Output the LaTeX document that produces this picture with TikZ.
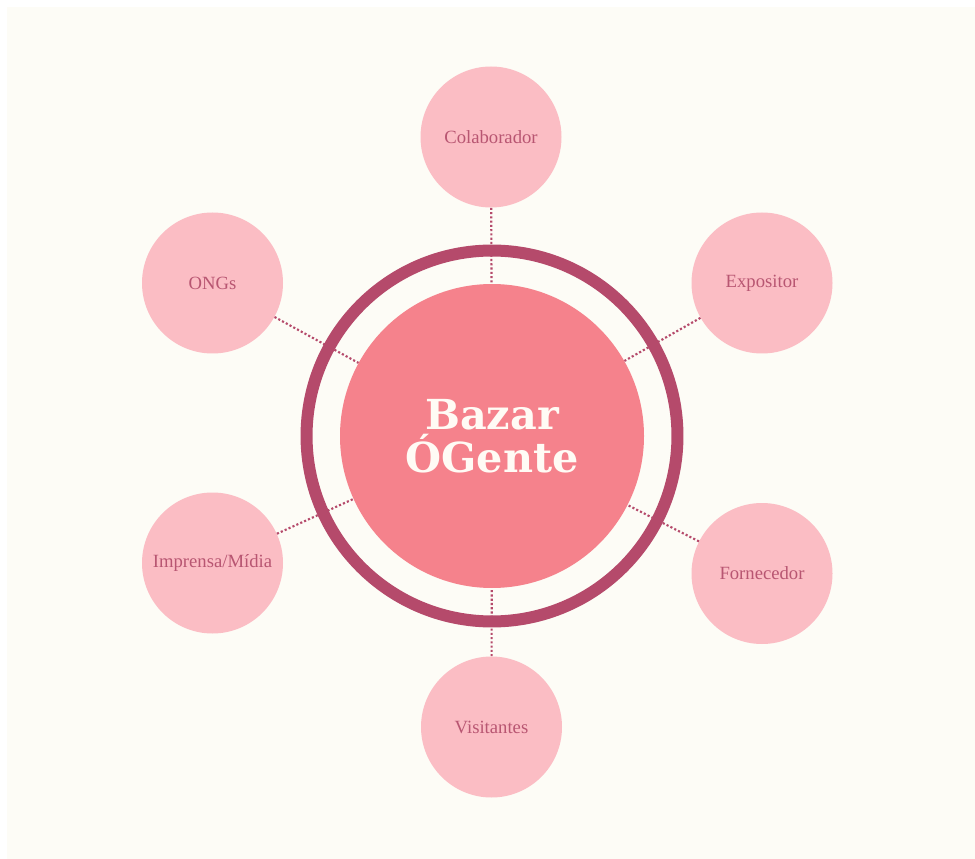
\documentclass[tikz,border=0pt]{standalone}
\usepackage{fontspec}
\setmainfont{Liberation Serif}
\newfontfamily\titlefont{DejaVu Serif}

\definecolor{bgcream}{HTML}{FDFCF6}
\definecolor{hubfill}{HTML}{F5828C}
\definecolor{satfill}{HTML}{FBBDC4}
\definecolor{ringcol}{HTML}{B54A6B}
\definecolor{labelcol}{HTML}{B85672}
\definecolor{titlecol}{HTML}{FFFBF5}

\tikzset{
  hubnode/.style={circle, fill=hubfill, minimum size=228pt, inner sep=0pt,
    text=titlecol, align=center,
    font=\titlefont\bfseries\fontsize{31}{32}\selectfont},
  satnode/.style={circle, fill=satfill, minimum size=105.75pt, inner sep=0pt,
    text=labelcol, font=\fontsize{14}{16}\selectfont},
  link/.style={ringcol, line width=1.6pt, dash pattern=on 1.6pt off 1.6pt},
}

\begin{document}
\begin{tikzpicture}[x=0.75pt, y=-0.75pt]
  % canvas: thin white margin on top and left, cream elsewhere
  \fill[white] (0,0) rectangle (975,859);
  \fill[bgcream] (7,7) rectangle (975,859);
  \useasboundingbox (0,0) rectangle (975,859);

  % node placement (pixel grid)
  \coordinate (c) at (492,436);

  \node[hubnode] (hub) at (c) {Bazar\\ÓGente};

  \node[satnode] (colab) at (491,137) {Colaborador};
  \node[satnode] (ongs)  at (212.5,283) {ONGs};
  \node[satnode] (expo)  at (762,283) {Expositor};
  \node[satnode] (midia) at (212.5,563) {Imprensa/Mídia};
  \node[satnode] (forn)  at (762,573.5) {Fornecedor};
  \node[satnode] (visit) at (491.5,727) {Visitantes};

  % dotted spokes from each satellite to the hub
  \foreach \s in {colab,ongs,expo,midia,forn,visit}
    \draw[link] (\s) -- (hub);

  % outer ring drawn over the spokes
  \draw[ringcol, line width=9pt] (c) circle[radius=139.1pt];
\end{tikzpicture}
\end{document}
